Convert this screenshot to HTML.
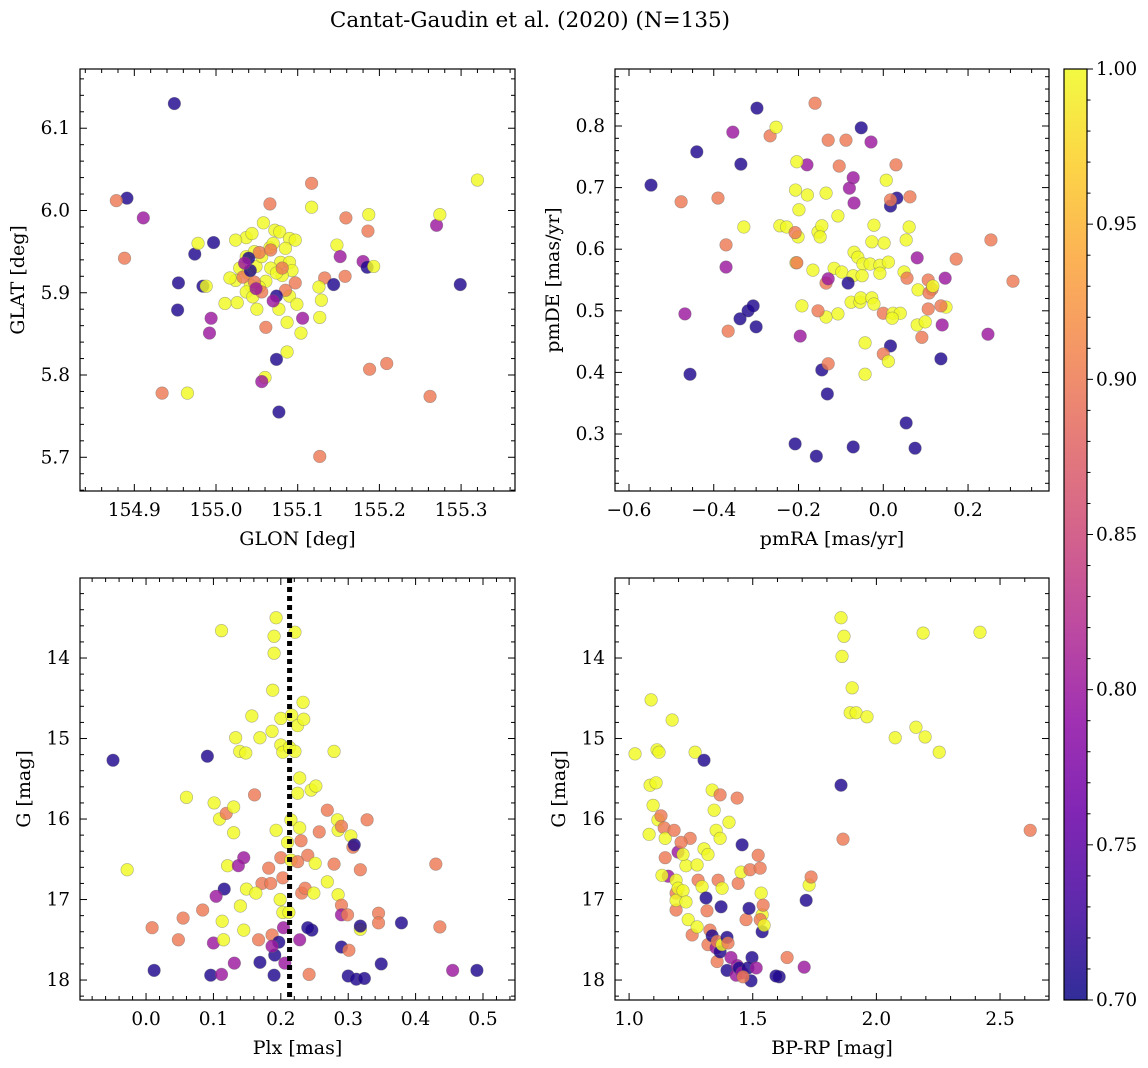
<!DOCTYPE html>
<html><head><meta charset="utf-8">
<style>
body{margin:0;background:#fff;}
svg{display:block;font-family:"DejaVu Serif","Liberation Serif",serif;}
</style></head>
<body>
<svg id="fig" width="1148" height="1068" xmlns="http://www.w3.org/2000/svg">
<text x="530" y="27" font-size="21.5" text-anchor="middle">Cantat-Gaudin et al. (2020) (N=135)</text>
</svg>
<script>
// Panel 1: GLON / GLAT
const p1Lon=[154.949,154.891,154.878,154.911,154.888,154.953,154.954,154.974,154.978,154.997,154.984,154.988,154.994,154.992,154.934,154.965,155.011,155.066,155.117,155.117,155.159,155.187,155.186,155.148,155.152,155.158,155.180,155.185,155.193,155.133,155.144,155.126,155.129,155.127,155.106,155.104,155.061,155.074,155.060,155.056,155.087,155.077,155.127,155.188,155.209,155.262,155.270,155.274,155.299,155.320,
155.058,155.072,155.078,155.090,155.097,155.037,155.044,155.024,155.037,155.049,155.056,155.066,155.070,155.079,155.090,155.093,155.081,155.061,155.053,155.042,155.029,155.024,155.017,155.026,155.037,155.045,155.050,155.077,155.090,155.099,155.087,155.067,155.039,155.074,155.085,155.047,
155.053,155.067,155.081,155.097,155.047,155.033,155.056,155.085,155.042,155.074,155.040,155.035,155.049,155.070];
const p1Lat=[6.130,6.015,6.012,5.991,5.942,5.879,5.912,5.947,5.960,5.961,5.908,5.908,5.869,5.851,5.778,5.778,5.887,6.008,6.033,6.004,5.991,5.995,5.975,5.958,5.944,5.920,5.938,5.931,5.932,5.918,5.910,5.907,5.891,5.870,5.869,5.851,5.858,5.819,5.797,5.792,5.828,5.755,5.701,5.807,5.814,5.774,5.982,5.995,5.910,6.037,
5.985,5.976,5.974,5.966,5.964,5.967,5.972,5.964,5.944,5.932,5.944,5.955,5.960,5.937,5.937,5.927,5.921,5.914,5.907,5.909,5.930,5.915,5.918,5.888,5.901,5.895,5.880,5.880,5.896,5.886,5.864,5.930,5.924,5.924,5.954,5.950,
5.949,5.952,5.930,5.912,5.913,5.919,5.901,5.903,5.927,5.896,5.942,5.936,5.905,5.890];
const p1Prob=[0.71,0.71,0.90,0.80,0.90,0.71,0.71,0.71,1.0,0.71,0.71,1.0,0.80,0.80,0.90,1.0,1.0,0.90,0.90,1.0,0.90,1.0,0.90,1.0,0.80,0.90,0.80,0.71,1.0,0.90,0.71,1.0,1.0,1.0,0.80,1.0,0.90,0.71,1.0,0.80,1.0,0.71,0.90,0.90,0.90,0.90,0.80,1.0,0.71,1.0,
1,1,1,1,1,1,1,1,1,1,1,1,1,1,1,1,1,1,1,1,1,1,1,1,1,1,1,1,1,1,1,1,1,1,1,1,
0.90,0.90,0.90,0.90,0.90,0.90,0.90,0.90,0.71,0.71,0.71,0.80,0.80,0.80];

// Panel 2: pmRA / pmDE
const p2RA=[-0.548,-0.440,-0.477,-0.390,-0.355,-0.336,-0.298,-0.267,-0.253,-0.329,-0.371,-0.371,-0.456,-0.468,-0.366,-0.338,-0.319,-0.307,-0.300,-0.208,-0.158,-0.071,0.054,0.075,0.017,-0.145,-0.132,-0.130,-0.196,-0.161,-0.130,-0.088,-0.052,-0.029,-0.180,-0.104,-0.071,-0.080,-0.069,0.030,0.007,0.032,0.017,0.017,0.063,
-0.204,-0.207,-0.179,-0.135,-0.244,-0.228,-0.201,-0.199,-0.154,-0.145,-0.149,-0.206,-0.204,-0.166,-0.192,-0.208,-0.107,-0.116,-0.098,-0.069,-0.060,-0.048,-0.071,-0.031,-0.008,-0.008,0.002,-0.027,-0.022,0.054,0.061,-0.050,-0.135,-0.107,-0.154,-0.135,-0.130,-0.083,-0.076,-0.055,-0.053,-0.027,-0.022,0.000,0.023,0.040,0.021,-0.043,-0.043,0.000,0.012,0.012,0.049,0.056,0.082,0.106,0.115,0.108,0.117,0.080,0.146,0.172,0.254,0.148,0.136,0.106,0.080,0.099,0.139,0.091,0.136,0.247,0.306];
const p2DE=[0.704,0.758,0.677,0.683,0.790,0.738,0.829,0.784,0.798,0.636,0.607,0.571,0.397,0.495,0.467,0.487,0.500,0.508,0.474,0.284,0.264,0.279,0.318,0.277,0.443,0.404,0.365,0.414,0.459,0.837,0.777,0.777,0.797,0.774,0.737,0.735,0.716,0.699,0.675,0.737,0.712,0.683,0.670,0.680,0.685,
0.742,0.696,0.688,0.691,0.638,0.636,0.620,0.664,0.628,0.638,0.620,0.578,0.578,0.566,0.508,0.627,0.654,0.569,0.563,0.595,0.587,0.576,0.557,0.576,0.574,0.561,0.610,0.612,0.639,0.615,0.636,0.557,0.490,0.495,0.500,0.545,0.552,0.545,0.514,0.514,0.521,0.521,0.511,0.496,0.496,0.496,0.488,0.448,0.397,0.430,0.418,0.579,0.563,0.553,0.534,0.550,0.535,0.529,0.540,0.586,0.553,0.584,0.615,0.506,0.508,0.503,0.477,0.482,0.477,0.457,0.422,0.462,0.548];
const p2Prob=[0.71,0.71,0.90,0.90,0.80,0.71,0.71,0.90,1.0,1.0,0.90,0.80,0.71,0.80,0.90,0.71,0.71,0.71,0.71,0.71,0.71,0.71,0.71,0.71,0.71,0.71,0.71,0.90,0.80,0.90,0.90,0.90,0.71,0.80,0.80,0.90,0.80,0.80,0.80,0.90,1.0,0.71,0.71,0.90,0.90,
1,1,1,1,1,1,1,1,1,1,1,1,0.90,1,1,0.90,1,1,1,1,1,1,1,1,1,1,1,1,1,1,1,1,1,1,0.90,0.90,0.80,0.71,1,1,1,1,1,0.90,1,1,1,1,1,0.90,1,1,1,0.90,1,0.90,0.90,0.90,1,0.80,0.80,0.90,0.90,1,0.90,0.90,1,1,0.80,0.90,0.71,0.80,0.90];

// Panel 3: Plx / G
const p3Plx=[-0.049,-0.028,0.012,0.009,0.048,0.055,0.084,0.060,0.091,0.096,0.100,0.101,0.109,0.119,0.112,0.112,0.116,0.104,0.113,0.115,0.121,0.130,0.133,0.130,0.139,0.148,0.145,0.137,0.131,0.140,0.149,0.145,0.157,0.161,0.169,0.167,0.172,0.187,0.185,0.182,0.163,0.169,0.190,0.191,0.197,0.187,0.190,0.190,0.188,0.193,0.187,0.193,0.200,0.203,0.200,0.200,0.199,0.203,0.203,0.204,0.206,0.210,0.215,0.215,0.212,0.216,0.213,0.221,0.221,0.225,0.228,0.225,0.228,0.230,0.225,0.231,0.233,0.234,0.240,0.236,0.242,0.246,0.240,0.228,0.245,0.252,0.251,0.249,0.257,0.269,0.269,0.279,0.284,0.285,0.279,0.285,0.290,0.290,0.290,0.290,0.299,0.301,0.300,0.304,0.307,0.309,0.312,0.318,0.318,0.318,0.324,0.328,0.345,0.345,0.349,0.379,0.430,0.436,0.455,0.491];
const p3G=[15.27,16.63,17.88,17.35,17.50,17.23,17.13,15.73,15.22,17.94,17.54,15.80,16.00,15.93,17.93,13.66,16.87,16.96,17.27,17.50,16.58,16.17,14.99,15.85,15.16,15.18,16.48,16.58,17.79,17.08,16.87,17.38,14.72,15.70,14.99,17.50,16.80,17.44,16.80,16.61,16.92,17.78,17.94,17.69,17.53,17.58,13.73,13.94,14.40,13.50,14.91,16.14,15.08,15.17,14.75,16.48,17.00,17.16,16.73,17.35,17.79,16.29,16.51,16.01,17.16,14.71,15.11,13.68,15.16,15.68,16.11,14.84,15.49,16.27,16.53,16.92,14.55,14.76,16.45,16.86,17.93,17.38,17.35,17.50,15.64,15.59,16.55,16.92,16.16,15.89,16.78,15.16,16.01,16.14,16.56,16.94,16.09,17.07,17.19,17.59,17.19,17.63,17.95,16.21,16.35,16.32,17.99,16.63,17.37,17.33,17.98,16.01,17.17,17.29,17.80,17.29,16.56,17.34,17.88,17.88];
const p3Prob=[0.71,1,0.71,0.90,0.90,0.90,0.90,1,0.71,0.71,0.80,1,1,0.90,0.80,1,0.71,0.80,1,1,1,1,1,1,1,1,0.80,0.80,0.80,1,1,1,1,0.90,1,0.90,0.90,0.90,0.90,0.90,1,0.71,0.71,0.71,0.71,0.80,1,1,1,1,1,1,1,1,1,0.90,1,1,0.90,0.80,0.80,1,1,1,1,1,1,1,1,1,1,1,1,0.90,0.90,0.90,1,1,0.90,0.90,0.90,0.71,0.71,0.80,1,1,1,1,0.90,0.90,1,1,1,1,0.90,1,0.90,0.90,0.80,0.71,0.90,0.90,0.71,1,0.90,0.71,0.71,0.90,1,0.71,0.71,0.90,0.90,0.90,0.71,0.71,0.90,0.90,0.80,0.71];
const plxMean=[0.213];

// Panel 4: BP-RP / G
const p4Col=[1.024,1.081,1.089,1.085,1.109,1.113,1.121,1.097,1.117,1.129,1.142,1.146,1.146,1.158,1.133,1.174,1.182,1.198,1.190,1.190,1.190,1.198,1.190,1.218,1.230,1.239,1.247,1.210,1.230,1.218,1.255,1.267,1.275,1.279,1.275,1.295,1.303,1.303,1.311,1.319,1.319,1.327,1.336,1.315,1.344,1.336,1.352,1.352,1.360,1.356,1.356,1.368,1.372,1.376,1.376,1.368,1.368,1.396,1.396,1.404,1.400,1.412,1.437,1.433,1.445,1.457,1.441,1.457,1.453,1.437,1.473,1.485,1.489,1.493,1.497,1.481,1.461,1.514,1.530,1.534,1.538,1.530,1.522,1.542,1.538,1.546,1.607,1.594,1.639,1.708,1.716,1.728,1.736,1.857,1.861,1.869,1.857,1.865,1.902,1.894,1.918,1.962,2.076,2.160,2.189,2.197,2.254,2.419,2.622];
const p4G=[15.19,16.19,14.52,15.58,15.55,15.14,15.17,15.83,16.01,15.96,16.11,16.24,16.48,16.71,16.70,14.77,16.14,16.41,16.76,16.92,17.13,16.86,17.01,16.89,17.03,17.25,16.24,16.29,16.58,16.44,17.44,15.17,16.57,16.76,17.34,16.84,15.27,16.37,16.98,16.44,17.56,17.38,17.45,17.14,15.89,15.64,16.14,17.60,16.76,17.52,17.77,17.65,17.09,17.56,16.86,15.70,16.24,17.88,17.47,16.04,17.54,17.72,17.82,17.94,17.85,17.91,16.80,16.32,16.66,15.74,17.25,17.11,16.63,18.01,17.72,17.85,17.96,17.85,16.61,16.92,17.19,17.25,16.45,17.07,17.40,17.32,17.96,17.95,17.72,17.84,17.01,16.82,16.72,13.50,13.98,13.73,15.58,16.25,14.37,14.68,14.68,14.73,14.99,14.86,13.69,14.98,15.17,13.68,16.14];
const p4Prob=[1,1,1,1,1,1,1,1,1,0.90,0.90,1,0.90,0.80,1,1,0.90,0.80,1,0.90,0.90,1,1,1,1,1,0.90,0.90,1,1,0.90,1,1,0.90,1,1,0.71,1,0.71,1,0.90,0.90,0.71,0.90,1,1,1,0.80,0.90,0.90,0.90,0.71,0.71,1,1,0.90,1,0.71,0.71,1,0.90,0.80,0.80,0.80,0.71,0.80,0.90,0.71,1,0.90,0.90,0.71,0.90,0.71,0.71,0.71,0.90,0.80,0.90,1,1,0.90,0.90,0.90,0.71,1,0.71,0.71,0.90,0.80,0.71,1,0.90,1,1,1,0.71,0.90,1,1,1,1,1,1,1,1,1,1,0.90];

const cbTicks=[0.70,0.75,0.80,0.85,0.90,0.95,1.00];

const NS='http://www.w3.org/2000/svg';
const svg=document.getElementById('fig');
function mk(tag,attrs,parent){const e=document.createElementNS(NS,tag);for(const k in attrs)e.setAttribute(k,attrs[k]);(parent||svg).appendChild(e);return e;}
const stops=['#0d0887','#41049d','#6a00a8','#8f0da4','#b12a90','#cc4778','#e16462','#f2844b','#fca636','#fcce25','#f0f921'];
function hex(h){return [1,3,5].map(i=>parseInt(h.substr(i,2),16));}
function plasma(p){let t=(p-0.7)/0.3;t=Math.max(0,Math.min(1,t));const f=t*10,i=Math.min(9,Math.floor(f)),r=f-i;const a=hex(stops[i]),b=hex(stops[i+1]);return 'rgb('+a.map((v,k)=>Math.round(v+(b[k]-v)*r)).join(',')+')';}

const TF=18.5, LF=19;
function fmt(v,d){return v.toFixed(d).replace('-','\u2212');}
function panel(o){
  const g=mk('g',{});
  
  
  const X=v=>o.x0+(v-o.xmin)/(o.xmax-o.xmin)*(o.x1-o.x0);
  const Y=o.yinv?(v=>o.y0+(v-o.ymin)/(o.ymax-o.ymin)*(o.y1-o.y0)):(v=>o.y1-(v-o.ymin)/(o.ymax-o.ymin)*(o.y1-o.y0));
  const pg=mk('g',{},g);
  
  
  for(let i=0;i<o.xs.length;i++){
    const c=mk('circle',{cx:X(o.xs[i]),cy:Y(o.ys[i]),r:6.3,fill:plasma(o.ps[i]),'fill-opacity':0.82,stroke:'#666','stroke-opacity':0.5,'stroke-width':0.6},pg);
    
    
  }
  if(o.extra)o.extra(g,X,Y);
  const fr=mk('rect',{x:o.x0,y:o.y0,width:o.x1-o.x0,height:o.y1-o.y0,fill:'none',stroke:'#000','stroke-width':1.2},g);
  
  
  const eps=1e-9;
  const nx0=Math.ceil(o.xmin/o.xminor-eps),nx1=Math.floor(o.xmax/o.xminor+eps);
  for(let n=nx0;n<=nx1;n++){
    const v=n*o.xminor;
    const major=Math.abs(v/o.xmajor-Math.round(v/o.xmajor))<1e-6;const L=major?7:4;const x=X(v);
    mk('line',{x1:x,x2:x,y1:o.y1,y2:o.y1-L,stroke:'#000','stroke-width':1},g);
    mk('line',{x1:x,x2:x,y1:o.y0,y2:o.y0+L,stroke:'#000','stroke-width':1},g);
    if(major){const t=mk('text',{x:x,y:o.y1+25,'font-size':TF,'text-anchor':'middle'},g);t.textContent=fmt(v,o.xd);
      
      }
  }
  const ny0=Math.ceil(o.ymin/o.yminor-eps),ny1=Math.floor(o.ymax/o.yminor+eps);
  for(let n=ny0;n<=ny1;n++){
    const v=n*o.yminor;
    const major=Math.abs(v/o.ymajor-Math.round(v/o.ymajor))<1e-6;const L=major?7:4;const y=Y(v);
    mk('line',{x1:o.x0,x2:o.x0+L,y1:y,y2:y,stroke:'#000','stroke-width':1},g);
    mk('line',{x1:o.x1,x2:o.x1-L,y1:y,y2:y,stroke:'#000','stroke-width':1},g);
    if(major){const t=mk('text',{x:o.x0-10,y:y+6,'font-size':TF,'text-anchor':'end'},g);t.textContent=fmt(v,o.yd);
      
      }
  }
  const xl=mk('text',{x:(o.x0+o.x1)/2,y:o.y1+54,'font-size':LF,'text-anchor':'middle'},g);xl.textContent=o.xlabel;
  
  
  const yx=o.x0-o.ylabOff,yy=(o.y0+o.y1)/2;
  const yl=mk('text',{x:yx,y:yy,'font-size':LF,'text-anchor':'middle',transform:`rotate(-90 ${yx} ${yy})`},g);yl.textContent=o.ylabel;
  
  
}

panel({name:'glon-glat-panel',x0:80,x1:515,y0:69,y1:491,xmin:154.8335,xmax:155.366,ymin:5.659,ymax:6.172,xmajor:0.1,xminor:0.02,ymajor:0.1,yminor:0.02,xd:1,yd:1,xs:p1Lon,ys:p1Lat,ps:p1Prob,xlabel:'GLON [deg]',ylabel:'GLAT [deg]',ylabOff:56});
panel({name:'proper-motion-panel',x0:615,x1:1049,y0:69,y1:491,xmin:-0.633,xmax:0.391,ymin:0.2075,ymax:0.8925,xmajor:0.2,xminor:0.05,ymajor:0.1,yminor:0.02,xd:1,yd:1,xs:p2RA,ys:p2DE,ps:p2Prob,xlabel:'pmRA [mas/yr]',ylabel:'pmDE [mas/yr]',ylabOff:56});
panel({name:'parallax-mag-panel',x0:80,x1:515,y0:578,y1:1000,xmin:-0.098,xmax:0.5475,ymin:13.006,ymax:18.248,yinv:true,xmajor:0.1,xminor:0.02,ymajor:1,yminor:0.2,xd:1,yd:0,xs:p3Plx,ys:p3G,ps:p3Prob,xlabel:'Plx [mas]',ylabel:'G [mag]',ylabOff:50,
  extra:(g,X,Y)=>{const l=mk('line',{x1:X(plxMean[0]),x2:X(plxMean[0]),y1:578,y2:1000,stroke:'#000','stroke-width':5,'stroke-dasharray':'5,4'},g);
    
    }});
panel({name:'cmd-panel',x0:615,x1:1049,y0:578,y1:1000,xmin:0.943,xmax:2.698,ymin:13.006,ymax:18.248,yinv:true,xmajor:0.5,xminor:0.1,ymajor:1,yminor:0.2,xd:1,yd:0,xs:p4Col,ys:p4G,ps:p4Prob,xlabel:'BP-RP [mag]',ylabel:'G [mag]',ylabOff:50});

const defs=mk('defs',{});
const lg=mk('linearGradient',{id:'cbg',x1:0,y1:1,x2:0,y2:0},defs);
stops.forEach((s,i)=>mk('stop',{offset:i/10,'stop-color':s,'stop-opacity':0.85},lg));
const cb=mk('g',{});


const cy0=69,cy1=1000,cx0=1064,cx1=1087;
mk('rect',{x:cx0,y:cy0,width:cx1-cx0,height:cy1-cy0,fill:'url(#cbg)',stroke:'#000','stroke-width':1.2},cb);
const CY=v=>cy1-(v-0.70)/0.30*(cy1-cy0);
for(let k=0;k<=30;k++){const v=0.70+k*0.01;const major=k%5===0;const y=CY(v);
  mk('line',{x1:cx1,x2:cx1+(major?6:3.5),y1:y,y2:y,stroke:'#000','stroke-width':1},cb);}
cbTicks.forEach(v=>{const t=mk('text',{x:cx1+9,y:CY(v)+6,'font-size':TF},cb);t.textContent=v.toFixed(2);
  
  });
</script>
</body></html>
